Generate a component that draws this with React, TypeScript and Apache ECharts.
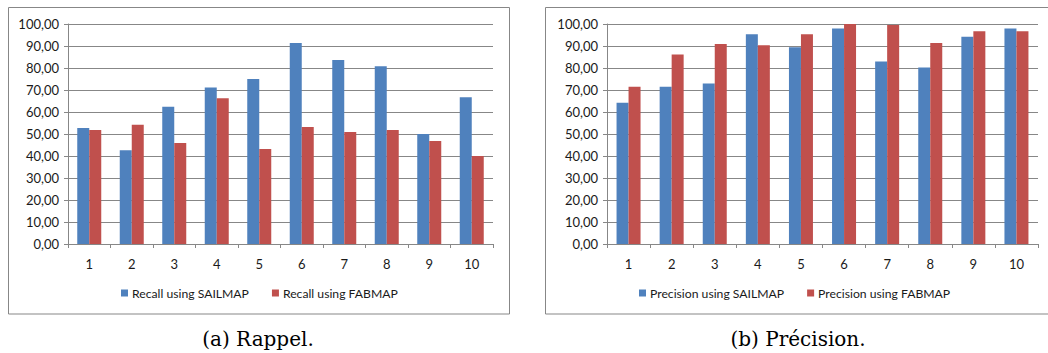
import React, { useEffect, useRef } from "react";
import * as echarts from "echarts";

const categories = ["1", "2", "3", "4", "5", "6", "7", "8", "9", "10"];
const recallSailmap = [52.7, 42.6, 62.4, 71.1, 75.0, 91.4, 83.6, 80.8, 50.0, 66.7];
const recallFabmap = [51.8, 54.2, 45.9, 66.2, 43.2, 53.2, 50.9, 51.8, 46.8, 40.0];
const precisionSailmap = [64.2, 71.5, 72.9, 95.3, 89.4, 98.0, 83.0, 80.2, 94.2, 98.0];
const precisionFabmap = [71.5, 86.1, 90.9, 90.3, 95.3, 100.0, 99.5, 91.4, 96.7, 96.7];
const seriesNames = [
  "Recall using SAILMAP",
  "Recall using FABMAP",
  "Precision using SAILMAP",
  "Precision using FABMAP",
];
const captions = ["(a) Rappel.", "(b) Précision."];

const BLUE = "#4F81BD";
const RED = "#C0504D";
const GRID = "#878787";
const FONT = "Lato";

export default function App() {
  const ref = useRef<HTMLDivElement>(null);
  useEffect(() => {
    document.body.style.margin = "0";
    const chart = echarts.init(ref.current!, null, { renderer: "svg" });
    const yAxis = (gridIndex: number) => ({
      type: "value",
      gridIndex,
      min: 0,
      max: 100,
      interval: 10,
      axisLine: { show: true, lineStyle: { color: GRID, width: 1 } },
      axisTick: { show: true, length: 4, lineStyle: { color: GRID } },
      splitLine: { show: true, lineStyle: { color: GRID, width: 1 } },
      axisLabel: {
        color: "#1a1a1a",
        fontFamily: FONT,
        fontSize: 13,
        margin: 9,
        formatter: (v: number) => v.toFixed(2).replace(".", ","),
      },
    });
    const xAxis = (gridIndex: number) => ({
      type: "category",
      gridIndex,
      data: categories,
      boundaryGap: true,
      axisLine: { show: true, lineStyle: { color: GRID, width: 1 } },
      axisTick: { show: true, length: 4, alignWithLabel: false, lineStyle: { color: GRID } },
      axisLabel: { color: "#1a1a1a", fontFamily: FONT, fontSize: 13, margin: 13 },
    });
    const bar = (name: string, data: number[], color: string, idx: number) => ({
      type: "bar",
      name,
      data,
      xAxisIndex: idx,
      yAxisIndex: idx,
      barWidth: 12,
      barGap: "0%",
      itemStyle: { color },
    });
    const legend = (names: string[], left: number) => ({
      data: names,
      left,
      top: 282,
      itemWidth: 7,
      itemHeight: 7,
      itemGap: 23,
      icon: "rect",
      textStyle: { color: "#1a1a1a", fontFamily: FONT, fontSize: 12.2, padding: [0, 0, 0, -1] },
    });
    chart.setOption({
      animation: false,
      backgroundColor: "#fff",
      grid: [
        { left: 68, right: 555, top: 24, bottom: 109 },
        { left: 607, right: 10, top: 24, bottom: 109 },
      ],
      xAxis: [xAxis(0), xAxis(1)],
      yAxis: [yAxis(0), yAxis(1)],
      legend: [
        legend([seriesNames[0], seriesNames[1]], 116),
        legend([seriesNames[2], seriesNames[3]], 634),
      ],
      series: [
        bar(seriesNames[0], recallSailmap, BLUE, 0),
        bar(seriesNames[1], recallFabmap, RED, 0),
        bar(seriesNames[2], precisionSailmap, BLUE, 1),
        bar(seriesNames[3], precisionFabmap, RED, 1),
      ],
      graphic: [
        {
          type: "rect",
          shape: { x: 8.5, y: 7.5, width: 501, height: 306.5 },
          style: { fill: "none", stroke: GRID, lineWidth: 1 },
          silent: true,
        },
        {
          type: "rect",
          shape: { x: 545.5, y: 7.5, width: 510, height: 306.5 },
          style: { fill: "none", stroke: GRID, lineWidth: 1 },
          silent: true,
        },
        {
          type: "text",
          x: 258,
          y: 339,
          style: {
            text: captions[0],
            fill: "#000",
            font: '20px "DejaVu Serif", "Liberation Serif", serif',
            align: "center",
            verticalAlign: "middle",
          },
        },
        {
          type: "text",
          x: 798,
          y: 339,
          style: {
            text: captions[1],
            fill: "#000",
            font: '20px "DejaVu Serif", "Liberation Serif", serif',
            align: "center",
            verticalAlign: "middle",
          },
        },
      ],
    });
    return () => chart.dispose();
  }, []);
  return <div ref={ref} style={{ width: 1048, height: 353 }} />;
}
